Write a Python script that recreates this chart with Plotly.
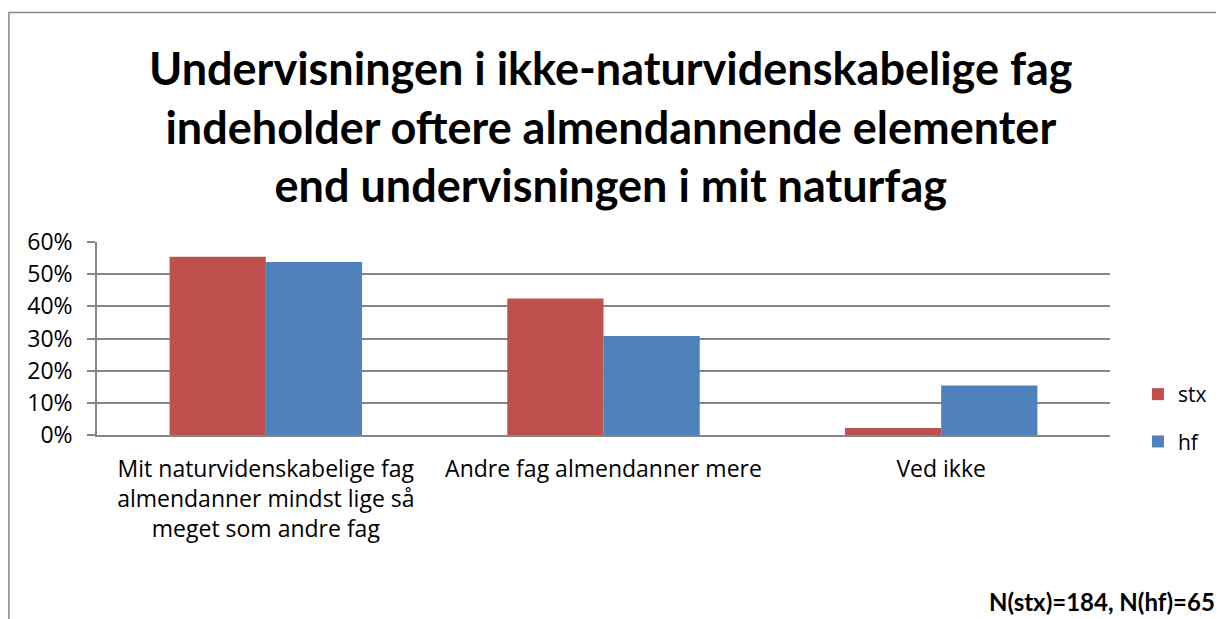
import plotly.graph_objects as go

categories = [
    "Mit naturvidenskabelige fag<br>almendanner mindst lige så<br>meget som andre fag",
    "Andre fag almendanner mere",
    "Ved ikke",
]
stx = [0.554, 0.424, 0.022]
hf = [0.538, 0.308, 0.154]
y_ticks = [0, 0.1, 0.2, 0.3, 0.4, 0.5, 0.6]
title_lines = [
    "Undervisningen i ikke-naturvidenskabelige fag",
    "indeholder oftere almendannende elementer",
    "end undervisningen i mit naturfag",
]
note = "N(stx)=184, N(hf)=65"

# page has an 8px body margin; work in screen pixels and convert
OFF = 8
W, H = 1224 - OFF, 619 - OFF
L = 97 - OFF
T = 242 - OFF
R = W - (1112 - OFF)
B = H - (435 - OFF)
pw, ph = W - L - R, H - T - B


def px(sx):
    return (sx - OFF - L) / pw


def py(sy):
    return (H - B - (sy - OFF)) / ph


title_font = "Lato, Carlito, Calibri, sans-serif"
body_font = "'Open Sans', Calibri, sans-serif"

fig = go.Figure()
fig.add_bar(name="stx", x=categories, y=stx, legendgroup="a",
            marker=dict(color="#C0504D", line=dict(width=0)))
fig.add_bar(name="hf", x=categories, y=hf, legendgroup="b",
            marker=dict(color="#4F81BD", line=dict(width=0)))

annotations = [
    dict(text="<b>" + "<br>".join(title_lines) + "</b>", x=px(612), y=py(126),
         xref="paper", yref="paper", showarrow=False, xanchor="center", yanchor="middle",
         font=dict(family=title_font, size=45, color="#000000"), align="center"),
    dict(text="<b>" + note + "</b>", x=px(1219), y=py(601), xref="paper", yref="paper",
         showarrow=False, xanchor="right", yanchor="middle",
         font=dict(family=title_font, size=24, color="#000000")),
]

fig.update_layout(
    width=W, height=H,
    margin=dict(l=L, r=R, t=T, b=B, pad=0),
    paper_bgcolor="white", plot_bgcolor="white",
    barmode="group", bargap=0.43, bargroupgap=0,
    font=dict(family=body_font, size=22, color="#000000"),
    showlegend=True,
    legend=dict(x=px(1140), y=py(374), xanchor="left", yanchor="top",
                font=dict(family=body_font, size=21), itemwidth=30,
                tracegroupgap=17, bgcolor="rgba(0,0,0,0)"),
    annotations=annotations,
    shapes=[dict(type="rect", xref="paper", yref="paper",
                 x0=px(OFF + 0.75), x1=px(1400), y0=py(800), y1=py(12.5),
                 line=dict(color="#868686", width=1.5), fillcolor="rgba(0,0,0,0)",
                 layer="below")],
)
fig.update_xaxes(showgrid=False, showline=True, linecolor="#868686", linewidth=1.5,
                 ticks="", tickfont=dict(family=body_font, size=23), ticklabelstandoff=13)
fig.update_yaxes(range=[0, 0.6], tickvals=y_ticks, tickformat=".0%",
                 showgrid=True, gridcolor="#868686", gridwidth=1.5,
                 showline=True, linecolor="#868686", linewidth=1.5,
                 ticks="outside", ticklen=8, tickcolor="#868686", tickwidth=1.5,
                 tickfont=dict(family=body_font, size=23), ticklabelstandoff=10,
                 zeroline=False)

fig.write_html("out.html")
